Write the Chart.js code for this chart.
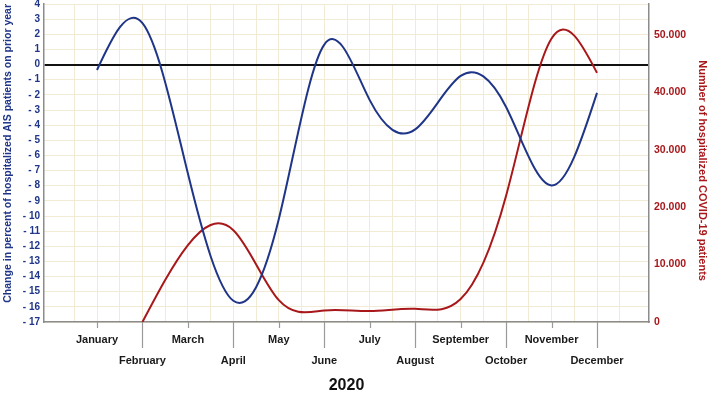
<!DOCTYPE html>
<html><head><meta charset="utf-8">
<script src="https://cdn.jsdelivr.net/npm/chart.js@4.4.0/dist/chart.umd.min.js"></script>
<style>html,body{margin:0;padding:0;background:#fff}canvas{display:block}</style>
</head><body>
<div style="width:709px;height:395px;position:relative"><canvas id="c" width="709" height="395"></canvas></div>
<script>
// ---- data ----
const months = ['January','February','March','April','May','June','July','August','September','October','November','December'];
const aisChange = [-0.36, 2.73, -7.2, -15.6, -10.2, 1.32, -2.35, -4.28, -0.75, -2.8, -7.98, -1.87];
const covidPatients = [null, 0, 13400, 16000, 3800, 2000, 1900, 2300, 4000, 22000, 49400, 43400];
const leftMin = -17, leftMax = 4;
const rightTickValues = [0, 10000, 20000, 30000, 40000, 50000];
const rightMax = 55400;
const xTitle = '2020';
const leftTitle = 'Change in percent of hospitalized AIS patients on prior year';
const rightTitle = 'Number of hospitalized COVID-19 patients';

const BLUE = '#1f3588';
const RED = '#a8181b';
const GRID = '#f1ebd6';
const AXIS = '#8c8c8c';
Chart.defaults.font.family = '"Liberation Sans", Arial, sans-serif';

// natural cubic spline slopes (pixel space) for smooth curves
function naturalSlopes(xs, ys) {
  const n = xs.length;
  const a = new Array(n).fill(0), b = new Array(n).fill(0), c = new Array(n).fill(0), d = new Array(n).fill(0);
  const h = [];
  for (let i = 0; i < n - 1; i++) h.push(xs[i + 1] - xs[i]);
  b[0] = 2 / h[0]; c[0] = 1 / h[0]; d[0] = 3 * (ys[1] - ys[0]) / (h[0] * h[0]);
  for (let i = 1; i < n - 1; i++) {
    a[i] = 1 / h[i - 1]; b[i] = 2 * (1 / h[i - 1] + 1 / h[i]); c[i] = 1 / h[i];
    d[i] = 3 * ((ys[i] - ys[i - 1]) / (h[i - 1] * h[i - 1]) + (ys[i + 1] - ys[i]) / (h[i] * h[i]));
  }
  a[n - 1] = 1 / h[n - 2]; b[n - 1] = 2 / h[n - 2]; d[n - 1] = 3 * (ys[n - 1] - ys[n - 2]) / (h[n - 2] * h[n - 2]);
  for (let i = 1; i < n; i++) { const w = a[i] / b[i - 1]; b[i] -= w * c[i - 1]; d[i] -= w * d[i - 1]; }
  const m = new Array(n);
  m[n - 1] = d[n - 1] / b[n - 1];
  for (let i = n - 2; i >= 0; i--) m[i] = (d[i] - c[i] * m[i + 1]) / b[i];
  return m;
}

const naturalSpline = {
  id: 'naturalSpline',
  beforeDatasetDraw(chart, args) {
    const meta = args.meta, line = meta.dataset;
    if (!line || !meta.data || meta.data.length < 2) return;
    if (line.updateControlPoints) line.updateControlPoints(chart.chartArea, meta.indexAxis);
    const pts = meta.data;
    const xs = pts.map(p => p.x), ys = pts.map(p => p.y);
    const m = naturalSlopes(xs, ys);
    for (let i = 0; i < pts.length - 1; i++) {
      const h = xs[i + 1] - xs[i];
      pts[i].cp2x = xs[i] + h / 3; pts[i].cp2y = ys[i] + m[i] * h / 3;
      pts[i + 1].cp1x = xs[i + 1] - h / 3; pts[i + 1].cp1y = ys[i + 1] - m[i + 1] * h / 3;
    }
    pts[0].cp1x = xs[0]; pts[0].cp1y = ys[0];
    const L = pts.length - 1; pts[L].cp2x = xs[L]; pts[L].cp2y = ys[L];
    line._path = undefined;
  }
};

const monthTicks = {
  id: 'monthTicks',
  afterDraw(chart) {
    const xs = chart.scales.x, ctx = chart.ctx;
    ctx.save();
    ctx.strokeStyle = '#9a9a9a';
    ctx.lineWidth = 1.2;
    months.forEach((m, i) => {
      const px = Math.round(xs.getPixelForValue(i)) + 0.5;
      ctx.beginPath();
      ctx.moveTo(px, xs.top);
      ctx.lineTo(px, xs.top + (i % 2 ? 26 : 6));
      ctx.stroke();
    });
    ctx.restore();
  }
};

new Chart(document.getElementById('c'), {
  type: 'line',
  data: {
    datasets: [
      {
        label: 'AIS',
        data: months.map((m, i) => ({x: i, y: aisChange[i]})),
        borderColor: BLUE, borderWidth: 2, pointRadius: 0, tension: 0.4,
        yAxisID: 'y', fill: false
      },
      {
        label: 'COVID',
        data: months.map((m, i) => ({x: i, y: covidPatients[i]})).filter(p => p.y !== null),
        borderColor: RED, borderWidth: 2, pointRadius: 0, tension: 0.4,
        yAxisID: 'y1', fill: false
      }
    ]
  },
  options: {
    responsive: false,
    animation: false,
    layout: {padding: {top: 4, left: 0, right: 0, bottom: 0}},
    plugins: {legend: {display: false}, tooltip: {enabled: false}},
    scales: {
      x: {
        type: 'linear', min: -1.166, max: 12.144,
        afterBuildTicks: s => { const t = []; for (let v = -0.5; v <= 11.5; v += 0.5) t.push({value: v}); s.ticks = t; },
        afterFit: s => { s.height = 73; s.paddingLeft = 0; s.paddingRight = 0; },
        grid: {color: GRID, drawTicks: false, lineWidth: 1},
        border: {color: AXIS, width: 1.5},
        ticks: {
          autoSkip: false, maxRotation: 0, minRotation: 0, padding: 7, color: '#1a1a1a',
          font: {size: 11, weight: 'bold', lineHeight: '21px'},
          callback: v => (Number.isInteger(v) && v >= 0 && v < months.length) ? (v % 2 ? ['', months[v]] : months[v]) : ''
        },
        title: {display: true, text: xTitle, color: '#111', font: {size: 16, weight: 'bold'}, padding: {top: 2, bottom: 0}}
      },
      y: {
        position: 'left', min: leftMin, max: leftMax,
        afterFit: s => { s.width = 44; s.paddingTop = 0; s.paddingBottom = 0; },
        grid: {
          drawTicks: false,
          color: c => (c.tick && c.tick.value === 0) ? '#111' : GRID,
          lineWidth: c => (c.tick && c.tick.value === 0) ? 2 : 1
        },
        border: {color: AXIS, width: 1.5},
        ticks: {
          stepSize: 1, autoSkip: false, padding: 4, color: BLUE, font: {size: 10, weight: 'bold'},
          callback: v => v < 0 ? '- ' + (-v) : String(v)
        },
        title: {display: true, text: leftTitle, align: 'end', color: BLUE, font: {size: 10.5, weight: 'bold'}, padding: {top: 2, bottom: 0}}
      },
      y1: {
        position: 'right', min: 0, max: rightMax,
        afterBuildTicks: s => { s.ticks = rightTickValues.map(v => ({value: v})); },
        afterFit: s => { s.width = 60; s.paddingTop = 0; s.paddingBottom = 0; },
        grid: {display: false, drawTicks: false},
        border: {color: AXIS, width: 1.5},
        ticks: {
          autoSkip: false, padding: 5, color: RED, font: {size: 10.5, weight: 'bold'},
          callback: v => v === 0 ? '0' : (v / 1000) + '.000'
        },
        title: {display: true, text: '     ' + rightTitle, color: RED, font: {size: 11, weight: 'bold'}, padding: {top: 0, bottom: 0}}
      }
    }
  },
  plugins: [naturalSpline, monthTicks]
});
</script>
</body></html>
